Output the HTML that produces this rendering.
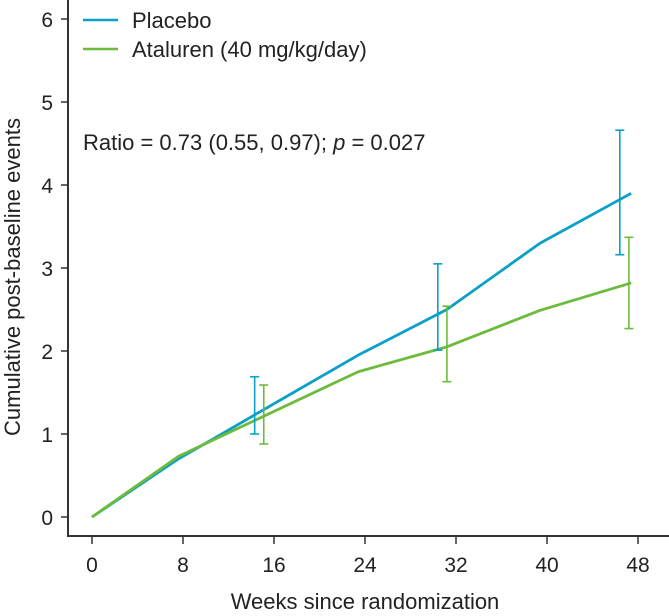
<!DOCTYPE html>
<html><head><meta charset="utf-8"><style>
html,body{margin:0;padding:0;background:#fff;}
svg{display:block;font-family:"Liberation Sans",Arial,sans-serif;}
</style></head><body>
<svg id="chart" width="669" height="616" viewBox="0 0 669 616">
<g id="axes"></g>
<g id="marks"></g>
<g>
<line x1="83" y1="20" x2="118" y2="20" stroke="#0aa0c8" stroke-width="2.5"/>
<text x="132" y="28" font-size="22" fill="#222">Placebo</text>
<line x1="83" y1="49" x2="118" y2="49" stroke="#6cbb3c" stroke-width="2.5"/>
<text x="132" y="57" font-size="22" fill="#222">Ataluren (40 mg/kg/day)</text>
</g>
<text x="83" y="150" font-size="22" fill="#222">Ratio = 0.73 (0.55, 0.97); <tspan font-style="italic">p</tspan> = 0.027</text>
<text x="365" y="609" font-size="22" fill="#222" text-anchor="middle">Weeks since randomization</text>
<text transform="translate(20,277) rotate(-90)" font-size="22" fill="#222" text-anchor="middle">Cumulative post-baseline events</text>
</svg>
<script>
const xTicks = [0, 8, 16, 24, 32, 40, 48];
const yTicks = [0, 1, 2, 3, 4, 5, 6];
const placeboWeeks = [0, 7.6, 23.4, 31.2, 39.4, 47.4];
const placeboValues = [0, 0.7, 1.95, 2.5, 3.3, 3.9];
const atalurenWeeks = [0, 7.6, 23.4, 31.2, 39.4, 47.4];
const atalurenValues = [0, 0.73, 1.75, 2.05, 2.49, 2.82];
const placeboErrWeeks = [14.3, 30.4, 46.4];
const placeboErrLow = [1.0, 2.01, 3.16];
const placeboErrHigh = [1.69, 3.05, 4.66];
const atalurenErrWeeks = [15.1, 31.2, 47.2];
const atalurenErrLow = [0.88, 1.63, 2.27];
const atalurenErrHigh = [1.59, 2.54, 3.37];

const NS = "http://www.w3.org/2000/svg";
const X = w => 92 + w * 11.375;
const Y = v => 517 - v * 83;
function mk(tag, attrs, parent) {
  const e = document.createElementNS(NS, tag);
  for (const k in attrs) e.setAttribute(k, attrs[k]);
  parent.appendChild(e);
  return e;
}
const axes = document.getElementById('axes');
const marks = document.getElementById('marks');
let el = mk('line', {x1: 68, y1: 0, x2: 68, y2: 537, stroke: '#333', 'stroke-width': 2}, axes);


el = mk('line', {x1: 67, y1: 536, x2: 669, y2: 536, stroke: '#333', 'stroke-width': 2}, axes);


xTicks.forEach(t => {
  const tk = mk('line', {x1: X(t), y1: 537, x2: X(t), y2: 544, stroke: '#333', 'stroke-width': 1.5}, axes);
  
  
  const lb = mk('text', {x: X(t), y: 572, 'font-size': 21, fill: '#222', 'text-anchor': 'middle'}, axes);
  lb.textContent = t;
  
  
});
yTicks.forEach(t => {
  const tk = mk('line', {x1: 61, y1: Y(t), x2: 68, y2: Y(t), stroke: '#333', 'stroke-width': 1.5}, axes);
  
  
  const lb = mk('text', {x: 53, y: Y(t) + 8, 'font-size': 21, fill: '#222', 'text-anchor': 'end'}, axes);
  lb.textContent = t;
  
  
});
function series(weeks, vals, color, name) {
  const p = mk('polyline', {points: weeks.map((w, i) => X(w) + ',' + Y(vals[i])).join(' '), fill: 'none', stroke: color, 'stroke-width': 2.8, 'stroke-linejoin': 'round'}, marks);
  
  
}
function errs(weeks, lo, hi, color, name) {
  weeks.forEach((w, i) => {
    const g = mk('g', {stroke: color, 'stroke-width': 1.6}, marks);
    
    
    const x = X(w);
    mk('line', {x1: x, y1: Y(lo[i]), x2: x, y2: Y(hi[i])}, g);
    mk('line', {x1: x - 4.5, y1: Y(lo[i]), x2: x + 4.5, y2: Y(lo[i])}, g);
    mk('line', {x1: x - 4.5, y1: Y(hi[i]), x2: x + 4.5, y2: Y(hi[i])}, g);
  });
}
series(placeboWeeks, placeboValues, '#0aa0c8', 'placebo-line');
series(atalurenWeeks, atalurenValues, '#6cbb3c', 'ataluren-line');
errs(placeboErrWeeks, placeboErrLow, placeboErrHigh, '#0aa0c8', 'placebo-error-bar');
errs(atalurenErrWeeks, atalurenErrLow, atalurenErrHigh, '#6cbb3c', 'ataluren-error-bar');
</script>
</body></html>
